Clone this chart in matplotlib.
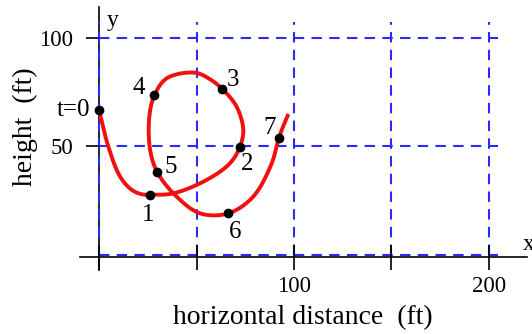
import numpy as np
import matplotlib
matplotlib.use("Agg")
import matplotlib.pyplot as plt

plt.rcParams['font.family'] = ['Liberation Serif', 'DejaVu Serif']

# marked positions along the flight
t_labels = ["t=0", "1", "2", "3", "4", "5", "6", "7"]
pt_x = [0, 26.3, 72.2, 63.1, 28.4, 29.9, 66.3, 92.2]
pt_y = [66.8, 27.8, 49.7, 76.6, 73.6, 38.1, 19.2, 53.9]

# traced path of the curve (ft)
path_x = [0, 4.8, 10.8, 16.8, 21.9, 26.3, 38.1, 55.2, 67.2, 72.2, 74.0, 70.6,
          63.1, 56.9, 49.2, 34.7, 28.4, 25.8, 26.2, 29.9, 39.8, 51.8, 66.3,
          79.1, 88.6, 92.2, 97.1]
path_y = [66.8, 49.9, 36.1, 30.0, 28.0, 27.8, 28.4, 34.6, 42.3, 49.7, 57.6,
          68.3, 76.6, 81.0, 84.0, 81.4, 73.6, 63.7, 48.4, 38.1, 26.9, 19.2,
          19.2, 26.9, 42.3, 53.9, 65.0]

x_ticks = [0, 50, 100, 150, 200]
x_ticklabels = ["", "", "100", "", "200"]
y_ticks = [50, 100]
y_ticklabels = ["50", "100"]


def smooth_path(xs, ys, n=24):
    # centripetal Catmull-Rom through the traced points
    P = np.column_stack([xs, ys]).astype(float)
    P = np.vstack([2 * P[0] - P[1], P, 2 * P[-1] - P[-2]])
    out = []
    for i in range(1, len(P) - 2):
        p0, p1, p2, p3 = P[i - 1], P[i], P[i + 1], P[i + 2]
        t0 = 0.0
        t1 = t0 + np.linalg.norm(p1 - p0) ** 0.5
        t2 = t1 + np.linalg.norm(p2 - p1) ** 0.5
        t3 = t2 + np.linalg.norm(p3 - p2) ** 0.5
        t = np.linspace(t1, t2, n)[:, None]
        a1 = (t1 - t) / (t1 - t0) * p0 + (t - t0) / (t1 - t0) * p1
        a2 = (t2 - t) / (t2 - t1) * p1 + (t - t1) / (t2 - t1) * p2
        a3 = (t3 - t) / (t3 - t2) * p2 + (t - t2) / (t3 - t2) * p3
        b1 = (t2 - t) / (t2 - t0) * a1 + (t - t0) / (t2 - t0) * a2
        b2 = (t3 - t) / (t3 - t1) * a2 + (t - t1) / (t3 - t1) * a3
        c = (t2 - t) / (t2 - t1) * b1 + (t - t1) / (t2 - t1) * b2
        out.append(c if i == 1 else c[1:])
    out = np.vstack(out)
    return out[:, 0], out[:, 1]


fig = plt.figure(figsize=(5.32, 3.34), dpi=100)
ax = fig.add_axes([0, 0, 1, 1])
ax.set_xlim(-50.8, 222.1)
ax.set_ylim(-36.4, 117.5)
ax.patch.set_alpha(0)

# dashed grid
grid_kw = dict(color='#2a2aff', lw=1.5, ls=(0, (5, 3.5)), zorder=1)
for gx in x_ticks:
    ax.plot([gx, gx], [0, 107.5], **grid_kw)
for gy in [0, 50, 100]:
    ax.plot([0, 204.5], [gy, gy], **grid_kw)

# axes through the origin
for side in ['top', 'right']:
    ax.spines[side].set_visible(False)
ax.spines['left'].set_position(('data', 0))
ax.spines['bottom'].set_position(('data', -0.9))
ax.spines['left'].set_bounds(-7, 114.5)
ax.spines['bottom'].set_bounds(-9.7, 219.5)
for side in ['left', 'bottom']:
    ax.spines[side].set_linewidth(1.2)
    ax.spines[side].set_zorder(0.5)

ax.set_xticks(x_ticks, x_ticklabels)
ax.set_yticks(y_ticks, y_ticklabels)
ax.tick_params(axis='x', direction='inout', length=18, width=1.2, pad=5,
               labelsize=16.5)
ax.tick_params(axis='y', direction='out', length=9.5, width=1.2, pad=9,
               labelsize=16.5)

cx, cy = smooth_path(path_x, path_y)
ax.plot(cx, cy, color='#f01010', lw=2.8, solid_capstyle='butt', zorder=3)
ax.plot(pt_x, pt_y, 'o', color='black', ms=6, zorder=4)

offsets = [(-9, 0), (-2, -20), (7, -17), (11, 9), (-16, 7), (13, 5),
           (7, -19), (-9, 10)]
for lab, x, y, off in zip(t_labels, pt_x, pt_y, offsets):
    ax.annotate(lab, (x, y), xytext=off, textcoords='offset pixels',
                ha='right' if lab == "t=0" else 'center', va='center',
                fontsize=18, zorder=5)

fig.text(0.047, 0.62, "height  (ft)", rotation=90, ha='center', va='center',
         fontsize=20)
fig.text(0.570, 0.048, "horizontal distance  (ft)", ha='center', va='center',
         fontsize=20)
fig.text(0.211, 0.94, "y", ha='center', va='center', fontsize=17)
fig.text(0.982, 0.268, "x", ha='left', va='center', fontsize=17)

fig.savefig("out.png", dpi=100)
